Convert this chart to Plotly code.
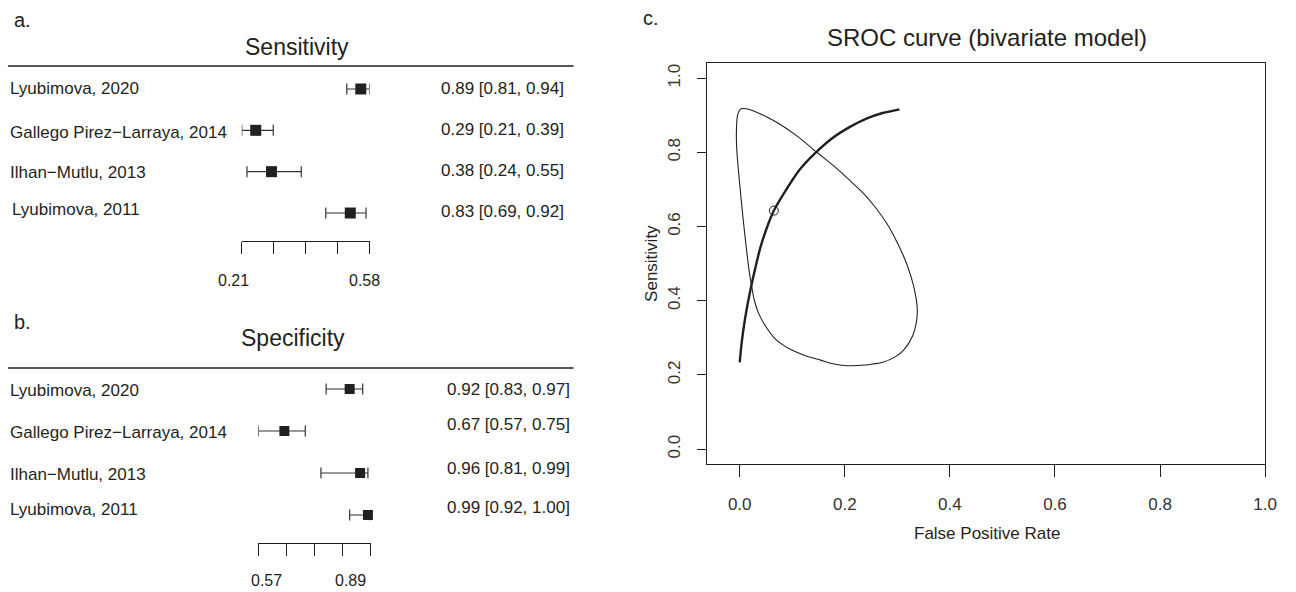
import numpy as np
import plotly.graph_objects as go

# ---- data -------------------------------------------------------------
studies = ["Lyubimova, 2020", "Gallego Pirez\u2212Larraya, 2014",
           "Ilhan\u2212Mutlu, 2013", "Lyubimova, 2011"]
row_pos = [4, 3, 2, 1]

sens_est = [0.89, 0.29, 0.38, 0.83]
sens_lo = [0.81, 0.21, 0.24, 0.69]
sens_hi = [0.94, 0.39, 0.55, 0.92]

spec_est = [0.92, 0.67, 0.96, 0.99]
spec_lo = [0.83, 0.57, 0.81, 0.92]
spec_hi = [0.97, 0.75, 0.99, 1.00]

sens_axis_labels = ["0.21", "0.58"]
spec_axis_labels = ["0.57", "0.89"]

# SROC curve of the bivariate model (false positive rate, sensitivity)
sroc_fpr = [0.000, 0.004, 0.010, 0.016, 0.022, 0.030, 0.039, 0.051, 0.065,
            0.091, 0.114, 0.146, 0.178, 0.209, 0.241, 0.272, 0.304]
sroc_sens = [0.234, 0.290, 0.350, 0.398, 0.440, 0.490, 0.542, 0.594, 0.643,
             0.705, 0.753, 0.801, 0.840, 0.868, 0.891, 0.906, 0.916]

# 95% confidence region around the summary point
region_fpr = [0.005, 0.020, 0.045, 0.075, 0.110, 0.146, 0.180, 0.209, 0.235,
              0.258, 0.280, 0.298, 0.314, 0.326, 0.334, 0.338, 0.336, 0.329,
              0.312, 0.295, 0.272, 0.240, 0.205, 0.175, 0.154, 0.125, 0.099,
              0.080, 0.067, 0.050, 0.036, 0.028, 0.024, 0.018, 0.012, 0.006,
              0.001, -0.003, -0.006, -0.006, -0.004, 0.000, 0.005]
region_sens = [0.918, 0.915, 0.900, 0.877, 0.843, 0.801, 0.762, 0.725, 0.690,
               0.652, 0.608, 0.562, 0.513, 0.465, 0.420, 0.375, 0.340, 0.305,
               0.267, 0.248, 0.234, 0.227, 0.225, 0.231, 0.240, 0.252, 0.267,
               0.283, 0.298, 0.330, 0.366, 0.400, 0.429, 0.480, 0.550, 0.627,
               0.700, 0.760, 0.820, 0.870, 0.900, 0.914, 0.918]

summary_fpr = [0.065]
summary_sens = [0.643]

# ---- layout helpers ---------------------------------------------------
W, H = 1296, 592
INK = "#231f20"
FONT = "Liberation Sans, Arial, Helvetica, sans-serif"


def px(x):
    return x / W


def py(y):
    return 1 - y / H


fig = go.Figure()


def forest(est, lo, hi, xa, ya, msize):
    fig.add_trace(go.Scatter(
        x=est, y=row_pos, xaxis=xa, yaxis=ya, mode="markers",
        marker=dict(symbol="square", size=msize, color=INK),
        error_x=dict(type="data", symmetric=False,
                     array=[h - e for h, e in zip(hi, est)],
                     arrayminus=[e - l for e, l in zip(est, lo)],
                     color="#333333", thickness=1.2, width=5.5),
        cliponaxis=False, showlegend=False, hoverinfo="skip"))


forest(sens_est, sens_lo, sens_hi, "x", "y", 11)
forest(spec_est, spec_lo, spec_hi, "x2", "y2", 10)

# SROC panel
fig.add_trace(go.Scatter(
    x=region_fpr, y=region_sens, xaxis="x3", yaxis="y3", mode="lines",
    line=dict(color=INK, width=1.1, shape="spline", smoothing=0.8),
    showlegend=False, hoverinfo="skip"))
fig.add_trace(go.Scatter(
    x=sroc_fpr, y=sroc_sens, xaxis="x3", yaxis="y3", mode="lines",
    line=dict(color=INK, width=2.4, shape="spline", smoothing=0.8),
    showlegend=False, hoverinfo="skip"))
fig.add_trace(go.Scatter(
    x=summary_fpr, y=summary_sens, xaxis="x3", yaxis="y3", mode="markers",
    marker=dict(symbol="circle-open", size=9, color=INK, line=dict(width=1)),
    showlegend=False, hoverinfo="skip"))

hidden_y = dict(showline=False, showticklabels=False, showgrid=False,
                zeroline=False, ticks="")
forest_x = dict(showline=True, linecolor=INK, linewidth=1.2, ticks="outside",
                ticklen=12, tickwidth=1.2, tickcolor=INK, showticklabels=False,
                showgrid=False, zeroline=False)

fig.update_layout(
    width=W, height=H, margin=dict(l=0, r=0, t=0, b=0),
    paper_bgcolor="white", plot_bgcolor="white",
    font=dict(family=FONT, color=INK, size=17),
    xaxis=dict(domain=[px(244), px(373)], range=[0.21, 0.94], anchor="y",
               tickvals=list(np.linspace(0.21, 0.94, 5)), **forest_x),
    yaxis=dict(domain=[py(241), py(66)], range=[0.323, 4.556], anchor="x",
               **hidden_y),
    xaxis2=dict(domain=[px(260.7), px(374)], range=[0.57, 1.00], anchor="y2",
                tickvals=list(np.linspace(0.57, 1.00, 5)), **forest_x),
    yaxis2=dict(domain=[py(543), py(368)], range=[0.333, 4.5], anchor="x2",
                **hidden_y),
    xaxis3=dict(domain=[px(714), px(1277)], range=[-0.0615, 1.0], anchor="y3",
                showline=True, mirror=True, linecolor=INK, linewidth=1.2,
                ticks="outside", ticklen=12, tickcolor=INK, tickwidth=1.2,
                tickvals=[0, 0.2, 0.4, 0.6, 0.8, 1.0], tickformat=".1f",
                tickfont=dict(size=17, color="#333333"), ticklabelstandoff=12,
                showgrid=False, zeroline=False),
    yaxis3=dict(domain=[py(464), py(63.3)], range=[-0.04, 1.04], anchor="x3",
                showline=True, mirror=True, linecolor=INK, linewidth=1.2,
                ticks="outside", ticklen=9, tickcolor=INK, tickwidth=1.2,
                tickvals=[0, 0.2, 0.4, 0.6, 0.8, 1.0], tickformat=".1f",
                tickangle=-90, tickfont=dict(size=17, color="#333333"),
                ticklabelstandoff=10, showgrid=False, zeroline=False),
)

ann = []


def text(x, y, s, size=17, xanchor="center", xref="paper", yref="paper",
         yshift=0, angle=0):
    ann.append(dict(x=x, y=y, text=s, xref=xref, yref=yref, showarrow=False,
                    xanchor=xanchor, yanchor="middle", yshift=yshift,
                    textangle=angle, font=dict(size=size, color=INK)))


# panel letters and titles
text(px(12), py(20), "a.", size=20, xanchor="left")
text(px(12), py(322), "b.", size=20, xanchor="left")
text(px(647), py(18), "c.", size=20, xanchor="left")
text(px(300), py(47), "Sensitivity", size=23)
text(px(296), py(338), "Specificity", size=23)
text(px(996), py(37), "SROC curve (bivariate model)", size=24)
text(px(996), py(533), "False Positive Rate", size=17)
text(px(657), py(263), "Sensitivity", size=17, angle=-90)

# study rows
name_shift_a = [0, -2, -1, 4]
val_shift_a = [0, 1, 1, 2]
name_shift_b = [-1, -2, -2, 5]
val_shift_b = [0, 6, 4, 7]
for i, s in enumerate(studies):
    text(px(8 if i < 3 else 10), row_pos[i], s, xanchor="left", yref="y",
         yshift=name_shift_a[i])
    text(px(571), row_pos[i],
         f"{sens_est[i]:.2f} [{sens_lo[i]:.2f}, {sens_hi[i]:.2f}]",
         xanchor="right", yref="y", yshift=val_shift_a[i])
    text(px(8), row_pos[i], s, xanchor="left", yref="y2",
         yshift=name_shift_b[i])
    text(px(577), row_pos[i],
         f"{spec_est[i]:.2f} [{spec_lo[i]:.2f}, {spec_hi[i]:.2f}]",
         xanchor="right", yref="y2", yshift=val_shift_b[i])

# forest axis labels
text(px(236), py(280), sens_axis_labels[0], size=16)
text(px(368), py(280), sens_axis_labels[1], size=16)
text(px(269), py(580), spec_axis_labels[0], size=16)
text(px(354), py(580), spec_axis_labels[1], size=16)

fig.update_layout(
    annotations=ann,
    shapes=[
        dict(type="line", xref="paper", yref="paper", x0=px(8), x1=px(579),
             y0=py(66), y1=py(66), line=dict(color=INK, width=1.4)),
        dict(type="line", xref="paper", yref="paper", x0=px(8), x1=px(579),
             y0=py(368), y1=py(368), line=dict(color=INK, width=1.4)),
    ],
)

fig.write_html("out.html")
